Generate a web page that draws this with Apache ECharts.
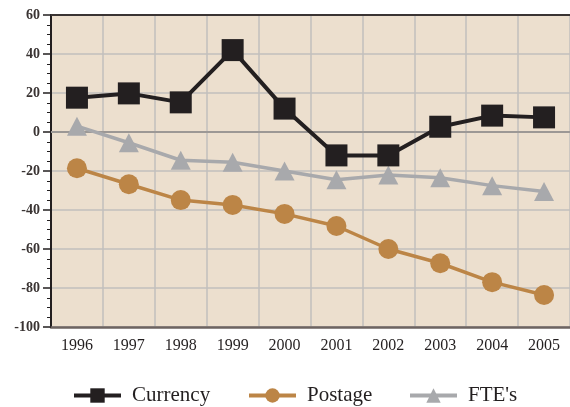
<!DOCTYPE html>
<html><head><meta charset="utf-8">
<script src="https://cdn.jsdelivr.net/npm/echarts@6/dist/echarts.min.js"></script>
<style>html,body{margin:0;padding:0;background:#fff}#c{width:570px;height:407px}</style>
</head><body><div id="c"></div>
<script>
const years = ['1996','1997','1998','1999','2000','2001','2002','2003','2004','2005'];
const currency = [17.6, 19.8, 15.2, 42, 12, -12, -12, 2.7, 8.4, 7.5];
const postage = [-18.6, -26.8, -34.9, -37.4, -42, -48.2, -60, -67.3, -77, -83.6];
const ftes = [3, -5.5, -14.5, -15.5, -20, -24.5, -22, -23.5, -27.5, -30.5];
const yTicks = [-100, -80, -60, -40, -20, 0, 20, 40, 60];

const font = '"Liberation Serif", "DejaVu Serif", serif';
const chart = echarts.init(document.getElementById('c'));
const legendBase = {
  top: 380, itemWidth: 47, itemHeight: 18, selectedMode: false,
  lineStyle: {width: 4},
  textStyle: {fontFamily: font, fontSize: 21, color: '#231F20', padding: [0,0,0,6]}
};
chart.setOption({
  animation: false,
  grid: {left: 51, right: -1, top: 15, bottom: 80, show: true, backgroundColor: '#ECDFCE', borderWidth: 0},
  legend: [
    Object.assign({}, legendBase, {left: 67, data: ['Currency']}),
    Object.assign({}, legendBase, {left: 242, data: ['Postage']}),
    Object.assign({}, legendBase, {left: 403, data: ["FTE's"]})
  ],
  xAxis: [{
    type: 'category', data: years, boundaryGap: true, position: 'bottom',
    axisLine: {show: true, onZero: false, lineStyle: {color: '#6D6461', width: 2.5}},
    axisTick: {show: false},
    axisLabel: {fontFamily: font, fontSize: 16, color: '#231F20', margin: 11},
    splitLine: {show: true, lineStyle: {color: '#C2BFBD', width: 1.5}}
  }, {
    type: 'category', data: years, position: 'top',
    axisLine: {show: true, onZero: false, lineStyle: {color: '#3A3433', width: 2}},
    axisTick: {show: false}, axisLabel: {show: false}, splitLine: {show: false}
  }],
  yAxis: {
    type: 'value', min: yTicks[0], max: yTicks[yTicks.length-1], interval: 20,
    axisLine: {show: true, lineStyle: {color: '#231F20', width: 2}},
    axisTick: {show: true, inside: false, length: 8, lineStyle: {color: '#231F20', width: 1.5}},
    minorTick: {show: true, splitNumber: 4, length: 4, lineStyle: {color: '#231F20', width: 1}},
    axisLabel: {fontFamily: font, fontSize: 14, fontWeight: 'bold', color: '#3A3433', margin: 11},
    splitLine: {show: true, lineStyle: {color: '#C2BFBD', width: 1.5}}
  },
  series: [
    {name: 'FTE\'s', type: 'line', data: ftes, symbol: 'triangle', symbolSize: [20, 19],
     itemStyle: {color: '#A8A9AC'}, lineStyle: {color: '#A8A9AC', width: 3.5}, z: 3,
     markLine: {silent: true, symbol: 'none', label: {show: false},
       lineStyle: {color: '#9C9895', width: 2, type: 'solid'}, data: [{yAxis: 0}], z: 1}},
    {name: 'Postage', type: 'line', data: postage, symbol: 'circle', symbolSize: 20,
     itemStyle: {color: '#BC8546'}, lineStyle: {color: '#BC8546', width: 3.5}, z: 4},
    {name: 'Currency', type: 'line', data: currency, symbol: 'rect', symbolSize: 22,
     itemStyle: {color: '#231F20'}, lineStyle: {color: '#231F20', width: 4}, z: 5}
  ]
});
</script></body></html>
